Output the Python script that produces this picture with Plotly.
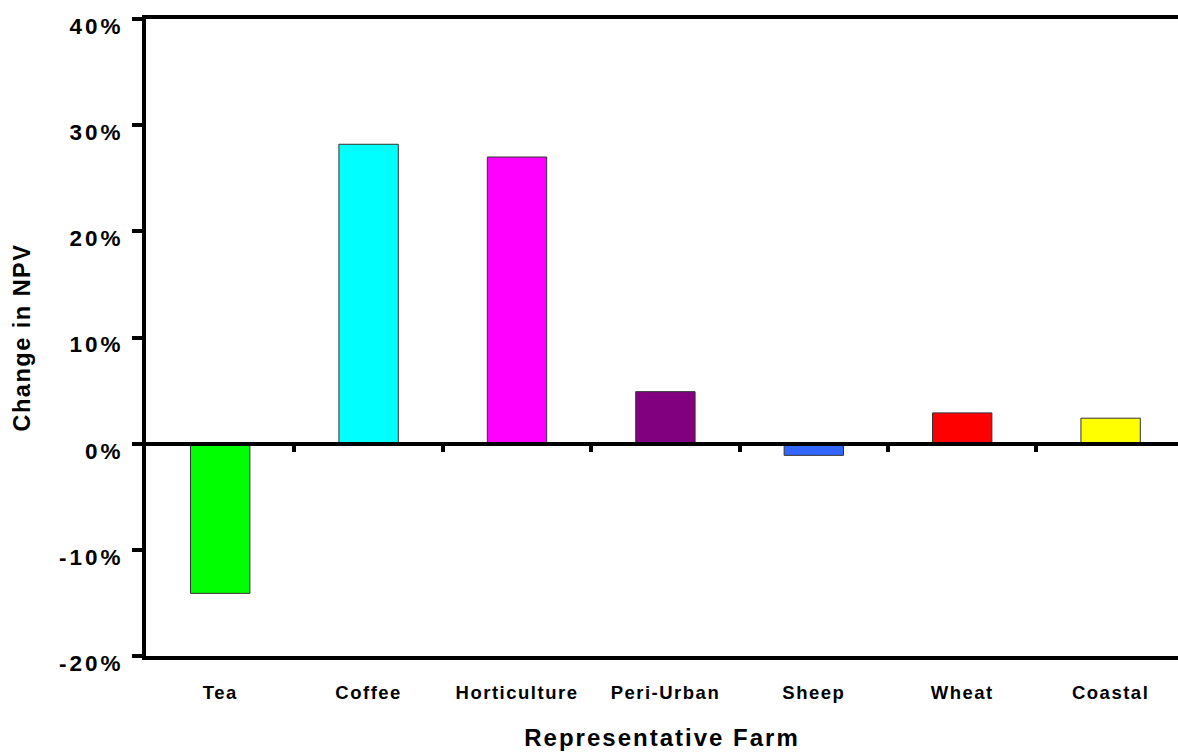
import plotly.graph_objects as go

# Change in net present value by representative farm type
farms = ["Tea", "Coffee", "Horticulture", "Peri-Urban", "Sheep", "Wheat", "Coastal"]
npv_change = [-14.1, 28.2, 27.0, 4.9, -1.1, 2.9, 2.4]
bar_colors = ["#00FF00", "#00FFFF", "#FF00FF", "#800080", "#3366FF", "#FF0000", "#FFFF00"]
y_ticks = [-20, -10, 0, 10, 20, 30, 40]
y_tick_text = ["-20%", "-10%", "0%", "10%", "20%", "30%", "40%"]

FONT = "Liberation Sans, Arial, sans-serif"

fig = go.Figure()
fig.add_trace(go.Bar(
    x=farms, y=npv_change, width=0.4,
    marker=dict(color=bar_colors, line=dict(color="#333333", width=1)),
    xaxis="x", yaxis="y", showlegend=False, hoverinfo="x+y",
))
# empty trace that carries the zero-line axis with boundary ticks
fig.add_trace(go.Scatter(x=[], y=[], xaxis="x2", yaxis="y", showlegend=False))

x_range = [-0.5, 6.454]
boundaries = [i + 0.5 for i in range(len(farms) - 1)]

fig.update_layout(
    width=1178, height=755,
    margin=dict(l=146, r=0, t=19, b=99),
    paper_bgcolor="white", plot_bgcolor="white",
    font=dict(family=FONT, color="black"),
    bargap=0.6,
    xaxis=dict(
        type="category", range=x_range,
        showline=True, linewidth=4, linecolor="black", mirror=True,
        ticks="", showgrid=False, zeroline=False,
        tickfont=dict(size=18.5, family=FONT, weight="bold"),
        ticklabelstandoff=17,
        title=dict(text="Representative Farm", standoff=28,
                   font=dict(size=24, family=FONT, weight="bold")),
    ),
    xaxis2=dict(
        type="linear", range=x_range, overlaying="x",
        anchor="free", position=1/3, side="bottom",
        showline=True, linewidth=4, linecolor="black",
        tickvals=boundaries, ticks="outside", ticklen=6, tickwidth=4, tickcolor="black",
        showticklabels=False, showgrid=False, zeroline=False,
    ),
    yaxis=dict(
        range=[-20, 40], tickvals=y_ticks, ticktext=y_tick_text,
        showline=True, linewidth=4, linecolor="black",
        ticks="outside", ticklen=10, tickwidth=4, tickcolor="black",
        showgrid=False, zeroline=False,
        tickfont=dict(size=22.5, family=FONT, weight="bold"),
        ticklabelshift=7, ticklabelstandoff=4,
        title=dict(text="Change in NPV", standoff=35,
                   font=dict(size=23.5, family=FONT, weight="bold")),
    ),
)

spacing_js = """
var gd = document.getElementById('{plot_id}');
function spread(sel, px) {
  gd.querySelectorAll(sel).forEach(function (t) { t.style.letterSpacing = px; });
}
spread('g.xtick text', '1.5px');
spread('g.ytick text', '3px');
spread('text.xtitle', '2px');
spread('text.ytitle', '1.5px');
"""

fig.write_html("out.html", post_script=spacing_js)
